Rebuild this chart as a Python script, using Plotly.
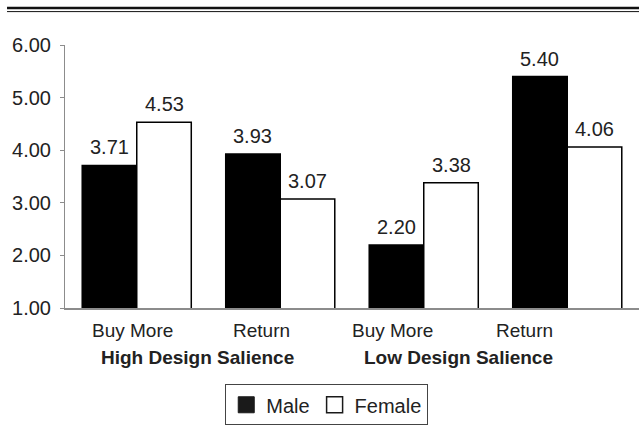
import plotly.graph_objects as go

# Purchase intention by gender, design salience and response type
categories = ["Buy More", "Return", "Buy More", "Return"]
groups = ["High Design Salience", "Low Design Salience"]
male = [3.71, 3.93, 2.20, 5.40]
female = [4.53, 3.07, 3.38, 4.06]
y_ticks = [1.00, 2.00, 3.00, 4.00, 5.00, 6.00]

TEXT = "#222222"
FONT = "Liberation Sans, Arial, Helvetica, sans-serif"
BAR_W = 0.38

idx = list(range(len(categories)))

fig = go.Figure()
fig.add_trace(go.Bar(
    x=idx, y=male, width=BAR_W, offset=-BAR_W, name="Male",
    marker=dict(color="black", line=dict(color="black", width=1.5)),
    showlegend=False,
))
fig.add_trace(go.Bar(
    x=idx, y=female, width=BAR_W, offset=0, name="Female",
    marker=dict(color="white", line=dict(color="black", width=1.5)),
    showlegend=False,
))

# legend entries with larger square swatches
fig.add_trace(go.Scatter(
    x=[None], y=[None], mode="markers", name="Male",
    marker=dict(symbol="square", size=16, color="#1a1a1a",
                line=dict(color="#1a1a1a", width=1)),
))
fig.add_trace(go.Scatter(
    x=[None], y=[None], mode="markers", name="Female",
    marker=dict(symbol="square", size=16, color="white",
                line=dict(color="#1a1a1a", width=1.5)),
))

annotations = []
# value labels above each bar
for i in idx:
    for val, off in ((male[i], -BAR_W / 2), (female[i], BAR_W / 2)):
        annotations.append(dict(
            x=i + off, y=val, xref="x", yref="y", text=f"{val:.2f}",
            showarrow=False, yanchor="bottom", yshift=5,
            font=dict(size=20, color=TEXT, family=FONT),
        ))

# category labels under the axis
cat_x = [-0.03, 0.87, 1.78, 2.70]
for cx, label in zip(cat_x, categories):
    annotations.append(dict(
        x=cx, y=-0.084, xref="x", yref="paper", text=label,
        showarrow=False, yanchor="middle",
        font=dict(size=19, color=TEXT, family=FONT),
    ))

# group labels
group_x = [0.425, 2.24]
for gx, label in zip(group_x, groups):
    annotations.append(dict(
        x=gx, y=-0.188, xref="x", yref="paper", text=f"<b>{label}</b>",
        showarrow=False, yanchor="middle",
        font=dict(size=19, color=TEXT, family=FONT),
    ))

fig.update_layout(
    width=639, height=448,
    margin=dict(l=65, r=0, t=45, b=140),
    paper_bgcolor="white", plot_bgcolor="white",
    barmode="overlay",
    font=dict(family=FONT, size=19, color=TEXT),
    xaxis=dict(
        range=[-0.5, 3.5], showticklabels=False, ticks="",
        showgrid=False, zeroline=False,
        showline=True, linecolor="#8c8c8c", linewidth=1.5,
    ),
    yaxis=dict(
        range=[1, 6], tickvals=y_ticks,
        ticktext=[f"{v:.2f}" for v in y_ticks],
        showgrid=False, zeroline=False,
        showline=True, linecolor="#8c8c8c", linewidth=1,
        ticks="outside", ticklen=4, tickcolor="#8c8c8c",
        ticklabelstandoff=5,
        tickfont=dict(size=20, color=TEXT, family=FONT),
    ),
    legend=dict(
        orientation="h", x=0.456, xanchor="center", y=-0.29, yanchor="top",
        bordercolor="#444444", borderwidth=1, bgcolor="white",
        font=dict(size=20, color=TEXT, family=FONT),
        itemsizing="trace",
    ),
    annotations=annotations,
    shapes=[
        dict(type="line", xref="paper", yref="paper",
             x0=-0.101, x1=1.0, y0=1.141, y1=1.141,
             line=dict(color="#111111", width=2.5)),
        dict(type="line", xref="paper", yref="paper",
             x0=-0.101, x1=1.0, y0=1.127, y1=1.127,
             line=dict(color="#111111", width=1)),
    ],
)

fig.write_html("out.html")
